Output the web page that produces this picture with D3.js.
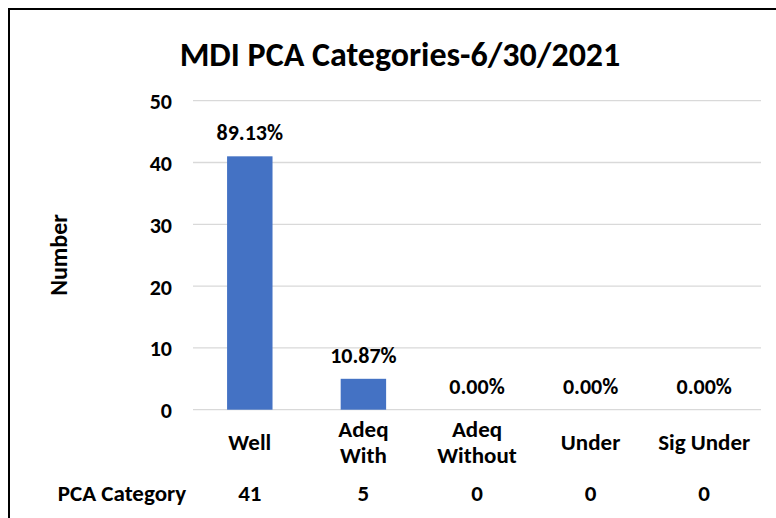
<!DOCTYPE html>
<html><head><meta charset="utf-8">
<script src="https://cdn.jsdelivr.net/npm/d3@7"></script>
<style>
html,body{margin:0;padding:0;background:#fff;}
svg{display:block;font-family:Carlito,Lato,"Open Sans",sans-serif;font-weight:bold;}
</style></head>
<body><svg id="c" width="776" height="518"></svg>
<script>
const categories = [["Well"], ["Adeq", "With"], ["Adeq", "Without"], ["Under"], ["Sig Under"]];
const values = [41, 5, 0, 0, 0];
const percentLabels = ["89.13%", "10.87%", "0.00%", "0.00%", "0.00%"];
const yTicks = [0, 10, 20, 30, 40, 50];
const title = "MDI PCA Categories-6/30/2021";
const yTitle = "Number";
const tableRowLabel = "PCA Category";

const svg = d3.select("#c");
svg.append("rect").attr("x", 9).attr("y", 9).attr("width", 780).attr("height", 520)
  .attr("fill", "none").attr("stroke", "#000").attr("stroke-width", 2);

const x = d3.scaleBand().domain(d3.range(categories.length)).range([193, 761]).paddingInner(0.6).paddingOuter(0.3);
const y = d3.scaleLinear().domain([0, 50]).range([409.7, 100.7]);

svg.append("text").attr("x", 400).attr("y", 66).attr("text-anchor", "middle")
  .attr("font-size", 34).attr("fill", "#000").text(title);

const grid = svg.append("g");
grid.selectAll("line").data(yTicks).join("line")
  .attr("x1", 193).attr("x2", 761)
  .attr("y1", d => y(d)).attr("y2", d => y(d))
  .attr("stroke", "#d9d9d9").attr("stroke-width", 1.3);

const yAxis = svg.append("g").attr("transform", "translate(193,0)")
  .call(d3.axisLeft(y).tickValues(yTicks).tickSize(0).tickPadding(21));
yAxis.select(".domain").remove();
yAxis.selectAll("text").attr("font-size", 22).attr("fill", "#000").attr("dy", "0.36em")
  .attr("font-family", "Carlito,Lato,'Open Sans',sans-serif").attr("font-weight", "bold");

svg.append("text").attr("transform", "translate(67,255) rotate(-90)")
  .attr("text-anchor", "middle").attr("font-size", 24).attr("fill", "#000").text(yTitle);

svg.selectAll("rect.bar").data(values).join("rect").attr("class", "bar")
  .attr("x", (d, i) => x(i)).attr("width", x.bandwidth())
  .attr("y", d => y(d)).attr("height", d => y(0) - y(d))
  .attr("fill", "#4472C4");

svg.selectAll("text.pl").data(values).join("text").attr("class", "pl")
  .attr("x", (d, i) => x(i) + x.bandwidth() / 2).attr("y", d => y(d) - 16)
  .attr("text-anchor", "middle").attr("font-size", 22).attr("fill", "#000")
  .text((d, i) => percentLabels[i]);

const cat = svg.selectAll("text.cat").data(categories).join("text").attr("class", "cat")
  .attr("text-anchor", "middle").attr("font-size", 23).attr("fill", "#000");
cat.each(function(lines, i) {
  const t = d3.select(this);
  const cx = x(i) + x.bandwidth() / 2;
  const startY = lines.length === 1 ? 450 : 437;
  lines.forEach((l, k) => t.append("tspan").attr("x", cx).attr("y", startY + k * 26).text(l));
});

svg.append("text").attr("x", 122).attr("y", 501).attr("text-anchor", "middle")
  .attr("font-size", 23).attr("fill", "#000").text(tableRowLabel);
svg.selectAll("text.tv").data(values).join("text").attr("class", "tv")
  .attr("x", (d, i) => x(i) + x.bandwidth() / 2).attr("y", 501)
  .attr("text-anchor", "middle").attr("font-size", 23).attr("fill", "#000").text(d => d);
</script></body></html>
